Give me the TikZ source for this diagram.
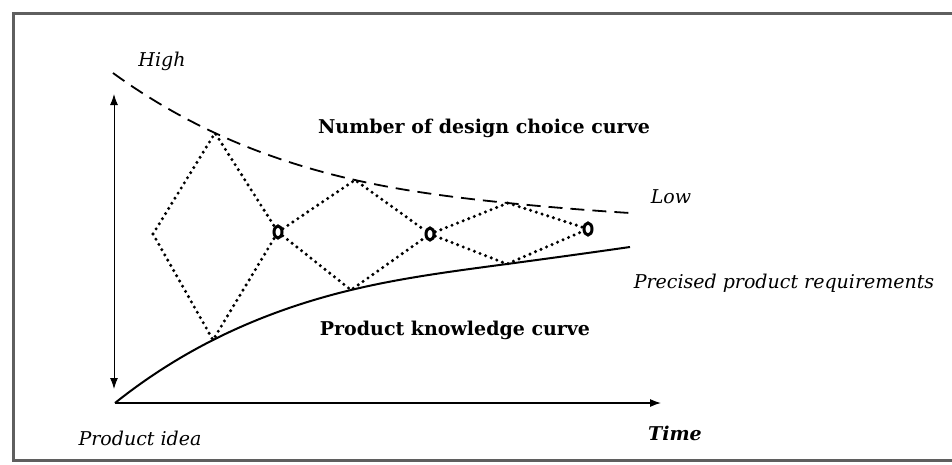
\documentclass[tikz,border=0pt]{standalone}
\usepackage{fontspec}
\setmainfont{DejaVu Serif}
\usetikzlibrary{arrows.meta,shapes.geometric,hobby}
\definecolor{framegray}{RGB}{95,95,95}

\begin{document}
\begin{tikzpicture}[x=1pt,y=-1pt,>=Latex]

% canvas, 952 x 464
\useasboundingbox (0,0) rectangle (952,464);

% frame (open on the right)
\draw[framegray,line width=3pt] (960,13) -- (13,13) -- (13,460) -- (960,460);

\tikzset{
  lbl/.style={inner sep=0pt,font=\itshape\fontsize{19}{21}\selectfont},
  curvelbl/.style={inner sep=0pt,font=\bfseries\fontsize{19}{21}\selectfont},
  axisline/.style={line width=1.2pt,-{Latex[length=11pt,width=8pt]}},
  choice/.style={dash pattern=on 14pt off 8pt,line width=1.8pt},
  knowledge/.style={line width=2pt},
  path/.style={line width=3.4pt,dash pattern=on 0pt off 6pt,line cap=round},
  junction/.style={ellipse,draw,line width=3pt,fill=white,
    minimum width=8pt,minimum height=12pt,inner sep=0pt}
}

% axes
\coordinate (o) at (115,403);
\coordinate (t) at (661,403);
\coordinate (vtop) at (114,94);
\coordinate (vbot) at (114,389);
\draw[axisline] (o) -- (t);
\draw[line width=1pt,{Latex[length=11pt,width=8pt]}-{Latex[length=11pt,width=8pt]}]
  (vtop) -- (vbot);

% points on the two curves
\coordinate (c0) at (113,73);
\coordinate (c1) at (215,133);
\coordinate (c2) at (355,180);
\coordinate (c3) at (508,203);
\coordinate (c4) at (630,213);
\coordinate (k1) at (213,340);
\coordinate (k2) at (351,290);
\coordinate (k3) at (507,264);
\coordinate (k4) at (630,247);

% curves
\draw[choice] (c0) to[curve through={(c1) (c2) (c3)}] (c4);
\draw[knowledge] (o) to[curve through={(k1) (k2) (k3)}] (k4);

% design paths
\coordinate (s) at (153,234);
\node[junction] (j1) at (278,232) {};
\node[junction] (j2) at (430,234) {};
\node[junction] (j3) at (588,229) {};
\draw[path] (s) -- (c1) -- (j1);
\draw[path] (s) -- (k1) -- (j1);
\draw[path] (j1) -- (c2) -- (j2);
\draw[path] (j1) -- (k2) -- (j2);
\draw[path] (j2) -- (c3) -- (j3);
\draw[path] (j2) -- (k3) -- (j3);

% labels
\node[lbl] (high) at (162,61) {High};
\node[lbl] (low) at (671,197) {Low};
\node[lbl] (req) at (784,283) {Precised product requirements};
\node[lbl] (idea) at (140,438) {Product idea};
\node[lbl,font=\bfseries\itshape\fontsize{19}{21}\selectfont] (time) at (675,433) {Time};
\node[curvelbl] (ncurve) at (484,128) {Number of design choice curve};
\node[curvelbl] (kcurve) at (455,330) {Product knowledge curve};

\end{tikzpicture}
\end{document}
